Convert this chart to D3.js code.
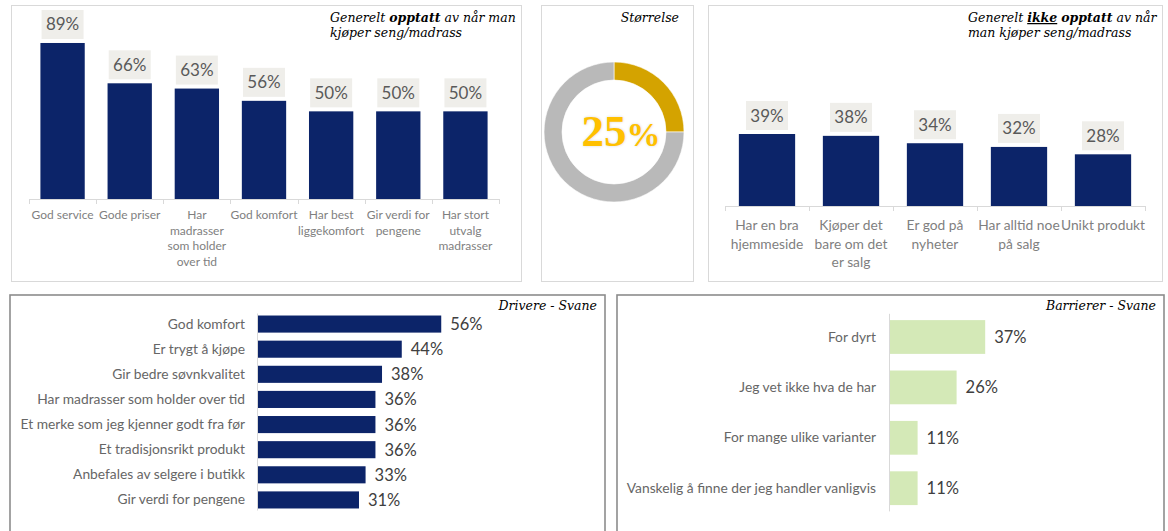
<!DOCTYPE html>
<html>
<head>
<meta charset="utf-8">
<script src="https://cdn.jsdelivr.net/npm/d3@7"></script>
<style>
  body { margin: 0; background: #fff; }
  svg { display: block; }
  .cat { font-family: Lato, "Open Sans", sans-serif; fill: #7f7f7f; }
  .val { font-family: Lato, "Open Sans", sans-serif; fill: #595959; }
  .ttl { font-family: "DejaVu Serif", serif; font-style: italic; fill: #000; }
</style>
</head>
<body>
<script>
// --- data ---
var opptattCats = ["God service", "Gode priser", "Har\nmadrasser\nsom holder\nover tid", "God komfort",
                   "Har best\nliggekomfort", "Gir verdi for\npengene", "Har stort\nutvalg\nmadrasser"];
var opptattVals = [89, 66, 63, 56, 50, 50, 50];

var ikkeCats = ["Har en bra\nhjemmeside", "Kjøper det\nbare om det\ner salg", "Er god på\nnyheter",
                "Har alltid noe\npå salg", "Unikt produkt"];
var ikkeVals = [39, 38, 34, 32, 28];

var storrelse = [25, 75];

var driverCats = ["God komfort", "Er trygt å kjøpe", "Gir bedre søvnkvalitet", "Har madrasser som holder over tid",
                  "Et merke som jeg kjenner godt fra før", "Et tradisjonsrikt produkt",
                  "Anbefales av selgere i  butikk", "Gir verdi for pengene"];
var driverVals = [56, 44, 38, 36, 36, 36, 33, 31];

var barrierCats = ["For dyrt", "Jeg vet ikke hva de har", "For mange ulike varianter",
                   "Vanskelig å finne der jeg handler vanligvis"];
var barrierVals = [37, 26, 11, 11];

var navy = "#0c2469";
var green = "#d4e9b7";

var svg = d3.select("body").append("svg")
    .attr("width", 1168)
    .attr("height", 531);

function panel(x, y, w, h, stroke, sw) {
    svg.append("rect")
        .attr("x", x + 0.5).attr("y", y + 0.5)
        .attr("width", w).attr("height", h)
        .attr("fill", "#fff")
        .attr("stroke", stroke)
        .attr("stroke-width", sw || 1);
}

panel(11, 5, 510, 276, "#d9d9d9");
panel(541, 5, 152, 276, "#d9d9d9");
panel(708, 5, 454, 276, "#d9d9d9");
panel(9.5, 294.5, 595, 245, "#8c8c8c", 1.6);
panel(616.5, 294.5, 547, 245, "#8c8c8c", 1.6);

// title with mixed runs: [text, bold, underline]
function title(x, y, lines, anchor) {
    var t = svg.append("text").attr("class", "ttl")
        .attr("x", x).attr("y", y)
        .attr("font-size", 12.5)
        .attr("text-anchor", anchor || "start");
    lines.forEach(function (runs, i) {
        runs.forEach(function (r, j) {
            var ts = t.append("tspan").text(r[0]);
            if (j == 0) ts.attr("x", x).attr("dy", i == 0 ? 0 : 15);
            if (r[1]) ts.attr("font-weight", "bold");
            if (r[2]) ts.attr("text-decoration", "underline");
        });
    });
}

function columnChart(cats, vals, x0, x1, yBase, pxPer, pIn, pOut, catSize, catLh, catY) {
    var x = d3.scaleBand().domain(cats).range([x0, x1]).paddingInner(pIn).paddingOuter(pOut);
    var y = d3.scaleLinear().domain([0, 100]).range([yBase, yBase - 100 * pxPer]);
    var g = svg.append("g");

    g.selectAll("rect.bar").data(vals).enter().append("rect")
        .attr("class", "bar")
        .attr("x", function (d, i) { return x(cats[i]); })
        .attr("y", function (d) { return y(d); })
        .attr("width", x.bandwidth())
        .attr("height", function (d) { return yBase - y(d); })
        .attr("fill", navy);

    // axis line with ticks between categories
    g.append("line").attr("x1", x0).attr("x2", x1).attr("y1", yBase + 0.5).attr("y2", yBase + 0.5)
        .attr("stroke", "#d9d9d9");
    for (var i = 0; i <= cats.length; i++) {
        var tx = Math.round(x0 + i * x.step()) + 0.5;
        g.append("line").attr("x1", tx).attr("x2", tx).attr("y1", yBase).attr("y2", yBase + 5)
            .attr("stroke", "#d9d9d9");
    }

    // value labels in boxes
    vals.forEach(function (d, i) {
        var cx = x(cats[i]) + x.bandwidth() / 2;
        var bw = 42, bh = 29;
        g.append("rect").attr("x", cx - bw / 2).attr("y", y(d) - 4 - bh)
            .attr("width", bw).attr("height", bh).attr("fill", "#efeeea");
        g.append("text").attr("class", "val")
            .attr("x", cx).attr("y", y(d) - 4 - bh / 2 + 6)
            .attr("text-anchor", "middle").attr("font-size", 17)
            .text(d + "%");
    });

    // category labels
    cats.forEach(function (c, i) {
        var cx = x(c) + x.bandwidth() / 2;
        var t = g.append("text").attr("class", "cat")
            .attr("text-anchor", "middle").attr("font-size", catSize)
            .attr("x", cx).attr("y", catY);
        c.split("\n").forEach(function (line, k) {
            t.append("tspan").attr("x", cx).attr("dy", k == 0 ? 0 : catLh).text(line);
        });
    });
}

columnChart(opptattCats, opptattVals, 29, 499, 199, 1.753, 0.34, 0.17, 12, 15.5, 219);
title(330, 22, [[["Generelt "], ["opptatt", true], [" av når man"]], [["kjøper seng/madrass"]]]);

columnChart(ikkeCats, ikkeVals, 725, 1145, 206, 1.846, 0.33, 0.165, 13.8, 18.5, 230);
title(968, 22, [[["Generelt "], ["ikke", true, true], [" "], ["opptatt", true], [" av når"]], [["man kjøper seng/madrass"]]]);

// donut
(function () {
    var cx = 614, cy = 132;
    var pie = d3.pie().sort(null).value(function (d) { return d; });
    var arc = d3.arc().innerRadius(52).outerRadius(70);
    var colors = ["#d4a300", "#b9b9b9"];
    var g = svg.append("g").attr("transform", "translate(" + cx + "," + cy + ")");
    g.selectAll("path").data(pie(storrelse)).enter().append("path")
        .attr("d", arc)
        .attr("fill", function (d, i) { return colors[i]; })
        .attr("stroke", "#fff").attr("stroke-width", 0.6);
    var t = svg.append("text")
        .attr("x", 621).attr("y", 146)
        .attr("text-anchor", "middle")
        .attr("font-family", "'Liberation Serif', 'DejaVu Serif', serif")
        .attr("font-weight", "bold")
        .attr("fill", "#ffc000")
        .style("text-shadow", "0 0 3px #d9d9d9");
    t.append("tspan").attr("font-size", 45).text(storrelse[0]);
    t.append("tspan").attr("font-size", 34).text("%");
    title(679, 22, [[["Størrelse"]]], "end");
})();

function barChart(cats, vals, color, xAxis, pxPer, y0, y1, pIn, labRight) {
    var y = d3.scaleBand().domain(cats).range([y0, y1]).paddingInner(pIn).paddingOuter(pIn / 2);
    var x = d3.scaleLinear().domain([0, 100]).range([xAxis, xAxis + 100 * pxPer]);
    var g = svg.append("g");
    g.selectAll("rect").data(vals).enter().append("rect")
        .attr("x", xAxis)
        .attr("y", function (d, i) { return y(cats[i]); })
        .attr("width", function (d) { return x(d) - xAxis; })
        .attr("height", y.bandwidth())
        .attr("fill", color);
    g.append("line").attr("x1", xAxis + 0.5).attr("x2", xAxis + 0.5).attr("y1", y0 + 2).attr("y2", y1 - 2)
        .attr("stroke", "#d9d9d9");
    cats.forEach(function (c, i) {
        var cy = y(c) + y.bandwidth() / 2;
        g.append("text").attr("class", "cat")
            .attr("x", labRight).attr("y", cy + 4.5)
            .attr("text-anchor", "end").attr("font-size", 13.8)
            .style("fill", "#666")
            .text(c);
        g.append("text").attr("class", "val")
            .attr("x", x(vals[i]) + 9).attr("y", cy + 6)
            .attr("font-size", 16.5)
            .style("fill", "#404040")
            .text(vals[i] + "%");
    });
}

barChart(driverCats, driverVals, navy, 257, 3.29, 311.5, 512.5, 0.32, 245);
title(597, 310, [[["Drivere  - Svane"]]], "end");

barChart(barrierCats, barrierVals, green, 889, 2.6, 311.8, 513.4, 0.33, 876);
title(1156, 310, [[["Barrierer - Svane"]]], "end");
</script>
</body>
</html>
